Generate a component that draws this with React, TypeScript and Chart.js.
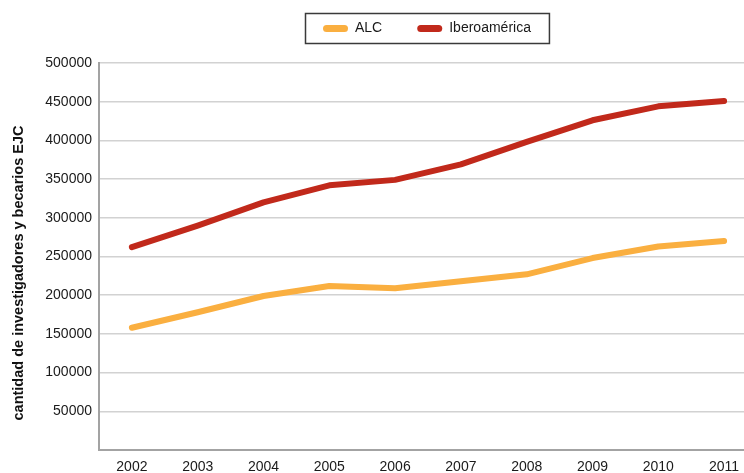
import React, { useEffect, useRef } from "react";
import { Chart, registerables } from "chart.js";

Chart.register(...registerables);

const years = ["2002", "2003", "2004", "2005", "2006", "2007", "2008", "2009", "2010", "2011"];
const alcValues = [158000, 178000, 199000, 212000, 209000, 218000, 227000, 248000, 263000, 270000];
const iberoValues = [262000, 290000, 320000, 342000, 349000, 369000, 398000, 426000, 444000, 451000];
const seriesLabels = ["ALC", "Iberoamérica"];
const seriesColors = ["#FAAF40", "#C1291B"];
const yAxisTitle = "cantidad de investigadores y becarios EJC";
const yMin = 0;
const yMax = 500000;
const yStep = 50000;

const FONT = "'Liberation Sans', Arial, sans-serif";

const customLegend = {
  id: "customLegend",
  afterDraw(chart: any) {
    const ctx = chart.ctx;
    ctx.save();
    ctx.font = `14px ${FONT}`;
    const sampleW = 25;
    const sampleH = 7;
    const gap = 7;
    const itemGap = 35;
    const pad = 18;
    const datasets = chart.data.datasets;
    const widths = datasets.map((d: any) => sampleW + gap + ctx.measureText(d.label).width);
    const inner = widths.reduce((a: number, b: number) => a + b, 0) + itemGap * (datasets.length - 1);
    const total = inner + pad * 2;
    const cx = 427;
    const left = Math.round(cx - total / 2);
    const top = 13;
    const h = 30;
    ctx.lineWidth = 1.5;
    ctx.strokeStyle = "#3a3a3a";
    ctx.strokeRect(left + 0.5, top + 0.5, total, h);
    const cy = top + h / 2 + 0.5;
    let x = left + pad;
    datasets.forEach((d: any, i: number) => {
      ctx.fillStyle = d.borderColor;
      ctx.beginPath();
      const r = sampleH / 2;
      ctx.moveTo(x + r, cy - r);
      ctx.lineTo(x + sampleW - r, cy - r);
      ctx.arc(x + sampleW - r, cy, r, -Math.PI / 2, Math.PI / 2);
      ctx.lineTo(x + r, cy + r);
      ctx.arc(x + r, cy, r, Math.PI / 2, (3 * Math.PI) / 2);
      ctx.closePath();
      ctx.fill();
      ctx.fillStyle = "#1a1a1a";
      ctx.textBaseline = "middle";
      ctx.textAlign = "left";
      ctx.fillText(d.label, x + sampleW + gap, cy);
      x += widths[i] + itemGap;
    });
    ctx.restore();
  },
};

const yTitlePlugin = {
  id: "yTitlePlugin",
  afterDraw(chart: any) {
    const ctx = chart.ctx;
    ctx.save();
    ctx.translate(19, 273);
    ctx.rotate(-Math.PI / 2);
    ctx.font = `bold 14.5px ${FONT}`;
    ctx.fillStyle = "#111";
    ctx.textAlign = "center";
    ctx.textBaseline = "middle";
    ctx.fillText(yAxisTitle, 0, 0);
    ctx.restore();
  },
};

export default function App() {
  const ref = useRef<HTMLCanvasElement>(null);

  useEffect(() => {
    if (!ref.current) return;
    const chart = new Chart(ref.current, {
      type: "line",
      data: {
        labels: years,
        datasets: [
          {
            label: seriesLabels[0],
            data: alcValues,
            borderColor: seriesColors[0],
            backgroundColor: seriesColors[0],
            borderWidth: 6,
            pointRadius: 0,
            tension: 0,
            borderCapStyle: "round",
            borderJoinStyle: "round",
          },
          {
            label: seriesLabels[1],
            data: iberoValues,
            borderColor: seriesColors[1],
            backgroundColor: seriesColors[1],
            borderWidth: 6,
            pointRadius: 0,
            tension: 0,
            borderCapStyle: "round",
            borderJoinStyle: "round",
          },
        ],
      },
      options: {
        responsive: false,
        animation: false,
        devicePixelRatio: 1,
        layout: { padding: { top: 63, left: 0, right: 0, bottom: 0 } },
        plugins: {
          legend: { display: false },
          tooltip: { enabled: false },
        },
        scales: {
          x: {
            type: "category",
            offset: true,
            afterFit(scale: any) {
              scale.height = 23;
            },
            grid: { display: false, drawTicks: false },
            border: { display: true, color: "#a3a3a3", width: 2 },
            ticks: {
              color: "#1a1a1a",
              font: { family: FONT, size: 14 },
              padding: 9,
              maxRotation: 0,
              autoSkip: false,
            },
          },
          y: {
            min: yMin,
            max: yMax,
            afterFit(scale: any) {
              scale.width = 99;
            },
            grid: { color: "#d2d2d2", lineWidth: 1.5, drawTicks: false },
            border: { display: true, color: "#a3a3a3", width: 2 },
            ticks: {
              stepSize: yStep,
              color: "#1a1a1a",
              font: { family: FONT, size: 14 },
              padding: 7,
              callback: (v: any) => (Number(v) === 0 ? "" : String(v)),
            },
          },
        },
      },
      plugins: [customLegend, yTitlePlugin],
    });
    return () => chart.destroy();
  }, []);

  return (
    <div
      style={{
        position: "fixed",
        left: 0,
        top: 0,
        width: 744,
        height: 473,
        overflow: "hidden",
        background: "#fff",
      }}
    >
      <canvas ref={ref} width={757} height={473} style={{ display: "block", width: 757, height: 473 }} />
    </div>
  );
}
